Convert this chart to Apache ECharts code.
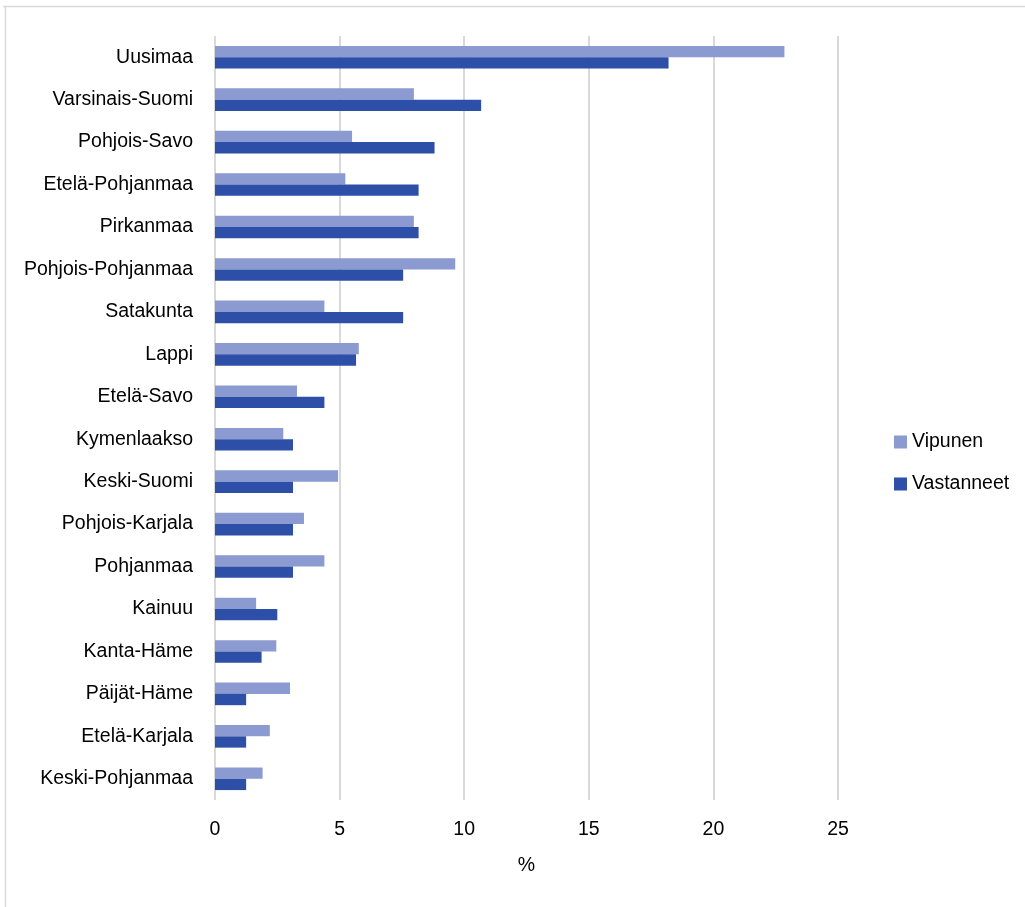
<!DOCTYPE html>
<html>
<head>
<meta charset="utf-8">
<script src="https://cdn.jsdelivr.net/npm/echarts@6/dist/echarts.min.js"></script>
<style>
html,body{margin:0;padding:0;background:#fff;}
#c{width:1025px;height:907px;}
</style>
</head>
<body>
<div id="c"></div>
<script>
const categories = ["Uusimaa","Varsinais-Suomi","Pohjois-Savo","Etelä-Pohjanmaa","Pirkanmaa","Pohjois-Pohjanmaa","Satakunta","Lappi","Etelä-Savo","Kymenlaakso","Keski-Suomi","Pohjois-Karjala","Pohjanmaa","Kainuu","Kanta-Häme","Päijät-Häme","Etelä-Karjala","Keski-Pohjanmaa"];
const vipunen = [22.85,7.98,5.5,5.23,7.98,9.64,4.39,5.77,3.29,2.74,4.94,3.57,4.39,1.65,2.46,3.01,2.2,1.91];
const vastanneet = [18.2,10.68,8.81,8.17,8.17,7.55,7.55,5.66,4.39,3.13,3.13,3.13,3.13,2.5,1.87,1.25,1.25,1.25];
const xTicks = [0,5,10,15,20,25];

const font = "'Liberation Sans', Arial, sans-serif";
const fs = 19.5;
const chart = echarts.init(document.getElementById('c'));
chart.setOption({
  animation: false,
  backgroundColor: '#fff',
  graphic: [
    {type:'line', shape:{x1:3,y1:6.5,x2:1025,y2:6.5}, style:{stroke:'#d9d9d9',lineWidth:1.5}},
    {type:'line', shape:{x1:5.5,y1:6,x2:5.5,y2:907}, style:{stroke:'#d9d9d9',lineWidth:1.5}}
  ],
  grid: {left:215, right:187, top:36, bottom:107},
  legend: {
    orient:'vertical', left:889, top:427,
    itemWidth:13, itemHeight:13, itemGap:22,
    icon:'rect',
    textStyle:{fontFamily:font, fontSize:fs, color:'#000'},
    data:['Vipunen','Vastanneet']
  },
  xAxis: {
    type:'value', min:0, max:25, interval:5,
    name:'%', nameLocation:'middle', nameGap:56,
    nameTextStyle:{fontFamily:font, fontSize:fs, color:'#000'},
    axisLine:{show:false}, axisTick:{show:false},
    axisLabel:{fontFamily:font, fontSize:fs, color:'#000', margin:20,
      formatter: v => xTicks.includes(v) ? String(v) : ''},
    splitLine:{show:true, lineStyle:{color:'#d9d9d9', width:2}}
  },
  yAxis: {
    type:'category', data:categories, inverse:true,
    axisLine:{show:false}, axisTick:{show:false},
    axisLabel:{fontFamily:font, fontSize:fs, color:'#000', margin:22}
  },
  series: [
    {name:'Vipunen', type:'bar', data:vipunen, barWidth:11.3, barGap:'0%',
     itemStyle:{color:'#8b9ad0'}},
    {name:'Vastanneet', type:'bar', data:vastanneet, barWidth:11.3, barGap:'0%',
     itemStyle:{color:'#2e4fa8'}}
  ]
});
</script>
</body>
</html>
